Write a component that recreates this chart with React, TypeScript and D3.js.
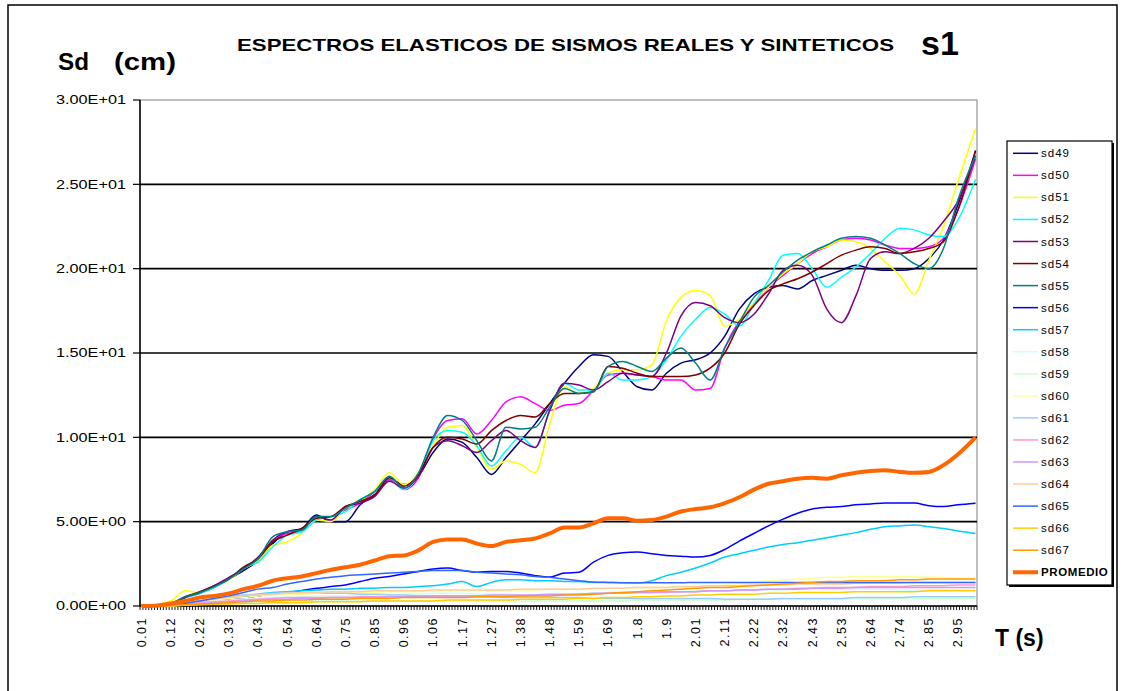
import React from "react";
import * as d3 from "d3";

// category index positions where the values were read (T = 0.01 + 0.0105 * index)
const GRID_IDX = [0,5,10,15,20,25,30,35,40,45,50,55,60,65,70,75,80,85,90,95,100,105,110,115,120,125,130,135,140,145,150,155,160,165,170,175,180,185,190,195,200,205,210,215,220,225,230,235,240,245,250,255,260,265,270,275,280,286];
const N_CATEGORIES = 287;
const X_TICK_LABELS = ["0.01","0.12","0.22","0.33","0.43","0.54","0.64","0.75","0.85","0.96","1.06","1.17","1.27","1.38","1.48","1.59","1.69","1.8","1.9","2.01","2.11","2.22","2.32","2.43","2.53","2.64","2.74","2.85","2.95"];
const Y_TICKS = [0,5,10,15,20,25,30];
const Y_TICK_LABELS = ["0.00E+00","5.00E+00","1.00E+01","1.50E+01","2.00E+01","2.50E+01","3.00E+01"];

const sd49 = [0.05,0.05,0.12,0.5,0.75,1.1,1.6,2.1,2.7,3.7,4.4,4.6,5.4,5.0,5.0,6.0,6.6,7.5,7.2,7.7,9.1,9.9,9.7,8.8,7.8,8.8,9.8,10.8,12.0,13.2,14.2,14.9,14.8,13.9,13.0,12.8,13.8,14.4,14.6,15.0,16.0,17.6,18.5,18.9,19.0,18.8,19.3,19.6,19.9,20.2,20.0,19.9,19.9,20.0,20.6,21.7,23.8,27.0];
const sd50 = [0.05,0.06,0.15,0.55,0.8,1.2,1.65,2.2,2.8,3.9,4.3,4.4,5.2,5.3,5.7,6.1,6.8,7.5,6.9,7.6,9.9,11.0,11.1,10.2,11.0,12.1,12.4,12.0,11.6,11.9,12.0,12.8,13.7,13.8,13.7,13.6,13.4,13.4,12.8,12.9,15.3,16.9,17.9,18.9,19.6,20.3,20.9,21.3,21.7,21.8,21.7,21.4,21.2,21.2,21.3,21.8,23.5,26.5];
const sd51 = [0.05,0.1,0.3,0.9,0.8,1.15,1.55,2.2,2.7,3.6,3.8,4.3,5.1,5.0,5.8,6.2,6.9,7.9,7.2,7.9,9.5,10.6,10.7,9.4,8.1,8.6,8.4,7.9,10.8,13.0,12.6,12.9,13.8,14.0,14.0,14.3,16.9,18.3,18.7,18.4,16.6,17.0,18.0,18.9,19.7,20.3,21.0,21.3,21.7,21.6,21.2,20.4,19.6,18.5,20.5,22.5,25.2,28.3];
const sd52 = [0.05,0.06,0.15,0.5,0.75,1.1,1.6,2.3,2.6,3.5,4.2,4.4,5.1,5.3,5.6,6.3,6.8,7.6,6.9,7.8,9.8,10.4,10.3,9.5,8.3,9.2,10.0,9.4,11.6,13.2,12.8,12.8,13.8,13.4,13.4,13.6,14.6,16.0,17.0,17.7,17.3,16.6,17.9,19.3,20.8,20.9,20.0,18.9,19.5,20.1,20.9,21.8,22.4,22.3,22.0,21.9,22.9,25.3];
const sd53 = [0.05,0.05,0.12,0.5,0.8,1.2,1.7,2.2,2.9,3.9,4.4,4.5,5.3,5.1,5.9,6.1,6.5,7.4,7.0,7.7,9.4,9.8,9.5,9.1,9.8,10.4,9.8,9.4,11.6,13.2,13.1,12.8,13.3,13.8,13.7,13.6,15.0,17.2,18.0,17.8,17.1,16.8,17.3,18.5,19.9,20.2,19.6,17.6,16.8,18.4,20.6,21.0,20.9,21.2,21.8,22.8,24.0,26.7];
const sd54 = [0.05,0.06,0.15,0.55,0.85,1.2,1.6,2.3,2.8,3.8,4.2,4.6,5.2,5.3,5.9,6.2,6.6,7.6,7.1,7.8,9.4,10.0,9.9,9.6,10.4,11.0,11.3,11.2,12.0,12.6,12.6,12.7,14.2,14.1,13.8,13.6,13.6,13.6,13.7,14.1,15.0,16.7,17.8,18.7,19.1,19.4,19.8,20.3,20.8,21.1,21.3,21.2,20.9,21.0,21.2,21.6,23.5,27.0];
const sd55 = [0.05,0.06,0.15,0.55,0.8,1.15,1.6,2.2,2.8,4.1,4.4,4.5,5.3,5.3,5.8,6.3,6.8,7.7,7.0,7.9,10.0,11.3,11.0,9.8,8.6,10.6,10.5,10.6,11.8,12.9,12.6,12.7,14.2,14.5,14.2,13.9,14.7,15.3,14.4,13.4,15.3,16.8,18.3,19.0,19.8,20.5,21.0,21.4,21.8,21.9,21.8,21.4,20.9,20.3,20.0,21.2,24.1,26.7];
const sd56 = [0,0.02,0.05,0.12,0.2,0.3,0.4,0.5,0.6,0.7,0.8,0.92,1.05,1.15,1.25,1.45,1.65,1.75,1.9,2.05,2.2,2.25,2.1,2.0,2.05,2.05,1.95,1.8,1.72,1.95,2.0,2.6,3.0,3.15,3.2,3.1,3.0,2.95,2.9,3.0,3.35,3.85,4.3,4.75,5.15,5.5,5.75,5.85,5.9,6.0,6.05,6.1,6.1,6.1,5.95,5.9,6.0,6.1];
const sd57 = [0,0.02,0.05,0.15,0.3,0.4,0.5,0.6,0.7,0.8,0.85,0.9,0.95,1.0,1.0,1.05,1.05,1.1,1.1,1.15,1.2,1.3,1.45,1.15,1.4,1.55,1.55,1.5,1.5,1.45,1.45,1.4,1.4,1.38,1.37,1.5,1.8,2.0,2.25,2.55,2.9,3.1,3.3,3.5,3.65,3.75,3.9,4.05,4.2,4.35,4.55,4.7,4.75,4.8,4.7,4.6,4.45,4.3];
const sd58 = [0,0,0.02,0.1,0.2,0.3,0.35,0.4,0.45,0.5,0.5,0.55,0.6,0.6,0.6,0.65,0.65,0.7,0.7,0.7,0.75,0.75,0.75,0.7,0.7,0.7,0.65,0.65,0.7,0.7,0.75,0.75,0.8,0.8,0.8,0.8,0.85,0.85,0.9,0.9,0.9,0.9,0.95,0.95,0.95,1.0,1.0,1.0,1.0,1.0,1.0,1.0,0.95,0.95,0.95,0.95,0.95,0.95];
const sd59 = [0,0,0.01,0.05,0.1,0.15,0.2,0.2,0.25,0.25,0.3,0.3,0.3,0.3,0.3,0.3,0.3,0.3,0.3,0.3,0.3,0.3,0.3,0.3,0.3,0.3,0.3,0.3,0.3,0.3,0.3,0.3,0.3,0.3,0.35,0.35,0.35,0.35,0.35,0.35,0.35,0.4,0.4,0.4,0.4,0.4,0.4,0.4,0.4,0.45,0.45,0.45,0.45,0.45,0.45,0.45,0.45,0.45];
const sd60 = [0,0,0.05,0.15,0.25,0.35,0.45,0.5,0.6,0.65,0.7,0.7,0.75,0.75,0.8,0.8,0.8,0.85,0.85,0.85,0.9,0.9,0.9,0.9,0.9,0.95,0.95,0.95,1.0,1.0,1.0,1.0,1.05,1.05,1.1,1.1,1.1,1.15,1.15,1.2,1.25,1.3,1.4,1.5,1.55,1.6,1.65,1.7,1.7,1.75,1.75,1.75,1.75,1.75,1.7,1.7,1.65,1.65];
const sd61 = [0,0,0.02,0.15,0.3,0.45,0.55,0.65,0.7,0.75,0.8,0.8,0.8,0.75,0.75,0.7,0.7,0.65,0.65,0.6,0.6,0.6,0.55,0.55,0.55,0.5,0.5,0.5,0.5,0.5,0.5,0.45,0.45,0.45,0.45,0.45,0.45,0.45,0.45,0.45,0.4,0.4,0.4,0.4,0.45,0.45,0.45,0.45,0.45,0.5,0.5,0.5,0.5,0.55,0.55,0.55,0.55,0.55];
const sd62 = [0,0,0.02,0.1,0.2,0.25,0.3,0.35,0.4,0.45,0.5,0.5,0.5,0.5,0.5,0.55,0.55,0.55,0.55,0.6,0.6,0.6,0.6,0.6,0.6,0.6,0.6,0.65,0.65,0.65,0.7,0.7,0.75,0.75,0.8,0.8,0.8,0.85,0.85,0.9,0.9,0.95,0.95,1.0,1.0,1.05,1.05,1.1,1.1,1.1,1.15,1.15,1.15,1.2,1.2,1.2,1.25,1.25];
const sd63 = [0,0,0.02,0.1,0.15,0.2,0.25,0.3,0.35,0.4,0.4,0.45,0.45,0.5,0.5,0.5,0.5,0.55,0.55,0.55,0.6,0.6,0.6,0.6,0.65,0.65,0.65,0.65,0.7,0.7,0.7,0.75,0.75,0.8,0.8,0.8,0.85,0.85,0.85,0.9,0.9,0.95,0.95,1.0,1.0,1.0,1.05,1.05,1.05,1.1,1.1,1.1,1.1,1.1,1.1,1.1,1.1,1.1];
const sd64 = [0,0,0.03,0.15,0.3,0.4,0.5,0.6,0.65,0.7,0.75,0.8,0.8,0.85,0.85,0.85,0.9,0.9,0.9,0.9,0.95,0.95,0.95,0.95,0.95,0.95,1.0,1.0,1.0,1.0,1.0,1.05,1.05,1.05,1.1,1.1,1.1,1.15,1.15,1.2,1.2,1.2,1.25,1.25,1.25,1.3,1.3,1.3,1.3,1.35,1.35,1.35,1.35,1.4,1.4,1.4,1.4,1.4];
const sd65 = [0,0.02,0.05,0.15,0.3,0.45,0.6,0.8,1.0,1.1,1.3,1.45,1.6,1.7,1.8,1.85,1.9,1.95,2.0,2.05,2.1,2.1,2.1,2.0,1.95,1.9,1.85,1.75,1.7,1.6,1.5,1.42,1.4,1.38,1.38,1.38,1.38,1.38,1.4,1.4,1.4,1.4,1.4,1.4,1.4,1.4,1.4,1.4,1.4,1.4,1.4,1.4,1.4,1.4,1.4,1.4,1.4,1.4];
const sd66 = [0,0,0.01,0.05,0.08,0.1,0.12,0.15,0.15,0.2,0.2,0.2,0.25,0.25,0.25,0.25,0.3,0.3,0.3,0.3,0.3,0.35,0.35,0.35,0.35,0.35,0.4,0.4,0.4,0.4,0.45,0.45,0.5,0.5,0.55,0.55,0.6,0.6,0.65,0.65,0.7,0.7,0.7,0.75,0.75,0.8,0.8,0.8,0.8,0.85,0.85,0.85,0.85,0.85,0.9,0.9,0.9,0.9];
const sd67 = [0,0,0.02,0.08,0.12,0.15,0.2,0.25,0.3,0.3,0.35,0.35,0.4,0.4,0.4,0.45,0.45,0.45,0.5,0.5,0.5,0.5,0.5,0.55,0.55,0.55,0.6,0.6,0.6,0.65,0.65,0.7,0.75,0.8,0.85,0.9,0.95,1.0,1.05,1.1,1.1,1.15,1.2,1.25,1.3,1.35,1.4,1.45,1.45,1.5,1.5,1.5,1.55,1.55,1.6,1.6,1.6,1.6];
const promedio = [0,0.02,0.15,0.3,0.5,0.6,0.75,1.0,1.2,1.5,1.65,1.75,1.95,2.15,2.3,2.45,2.7,2.95,3.0,3.3,3.8,3.95,3.95,3.7,3.55,3.8,3.9,4.0,4.3,4.65,4.65,4.9,5.2,5.2,5.05,5.1,5.3,5.6,5.75,5.85,6.1,6.45,6.9,7.25,7.4,7.55,7.6,7.55,7.75,7.9,8.0,8.05,7.95,7.9,7.95,8.35,9.0,10.0];

const SERIES_NAMES = ["sd49","sd50","sd51","sd52","sd53","sd54","sd55","sd56","sd57","sd58","sd59","sd60","sd61","sd62","sd63","sd64","sd65","sd66","sd67","PROMEDIO"];
const SERIES_VALUES = [sd49,sd50,sd51,sd52,sd53,sd54,sd55,sd56,sd57,sd58,sd59,sd60,sd61,sd62,sd63,sd64,sd65,sd66,sd67,promedio];
const SERIES_COLORS = ["#000080","#FF00FF","#FFFF00","#00FFFF","#800080","#800000","#008080","#0000FF","#00CCFF","#CCFFFF","#CCFFCC","#FFFF99","#99CCFF","#FF99CC","#CC99FF","#FFCC99","#3366FF","#FFCC00","#FF9900","#FF6600"];

const FONT = "'Liberation Sans', Arial, sans-serif";

export default function App() {
  const left = 140, right = 977, top = 100, bottom = 606;
  const x = d3.scaleLinear().domain([-0.5, N_CATEGORIES - 0.5]).range([left, right]);
  const y = d3.scaleLinear().domain([0, 30]).range([bottom, top]);
  const line = d3.line<number>()
    .x((_, i) => x(GRID_IDX[i]))
    .y((d) => y(d))
    .curve(d3.curveMonotoneX);

  const step = (right - left) / N_CATEGORIES;
  const catTicks = d3.range(N_CATEGORIES + 1).map((k) => left + k * step);

  const legX = 1007, legY = 141, legW = 105, legH = 444;
  const legRow0 = 153.3, legStep = 22.05;

  return (
    <svg width={1123} height={691} style={{ position: "absolute", left: 0, top: 0, background: "#fff" }}>
      <rect x={0} y={0} width={1123} height={691} fill="#fff" />
      {/* chart area border */}
      <rect x={8} y={5} width={1109} height={700} fill="none" stroke="#000" strokeWidth={1.5} />

      {/* titles */}
      <text x={237} y={51} fontFamily={FONT} fontWeight="bold" fontSize={17} textLength={657} lengthAdjust="spacingAndGlyphs">ESPECTROS ELASTICOS DE SISMOS REALES Y SINTETICOS</text>
      <text x={921} y={55} fontFamily={FONT} fontWeight="bold" fontSize={34}>s1</text>
      <text x={58} y={70} fontFamily={FONT} fontWeight="bold" fontSize={23} textLength={31} lengthAdjust="spacingAndGlyphs">Sd</text>
      <text x={114} y={70} fontFamily={FONT} fontWeight="bold" fontSize={23} textLength={62} lengthAdjust="spacingAndGlyphs">(cm)</text>
      <text x={995} y={646} fontFamily={FONT} fontWeight="bold" fontSize={23}>T (s)</text>

      {/* plot area border (gray) */}
      <rect x={left} y={top} width={right - left} height={bottom - top} fill="none" stroke="#808080" strokeWidth={1} />

      {/* gridlines */}
      {Y_TICKS.filter((t) => t > 0 && t < 30).map((t) => (
        <line key={"g" + t} x1={left} x2={right} y1={y(t)} y2={y(t)} stroke="#000" strokeWidth={1.6} />
      ))}

      {/* y axis */}
      <line x1={left} x2={left} y1={top} y2={bottom} stroke="#000" strokeWidth={1.5} />
      {Y_TICKS.map((t, i) => (
        <g key={"yt" + t}>
          <line x1={left - 7} x2={left} y1={y(t)} y2={y(t)} stroke="#000" strokeWidth={1.2} />
          <text x={126} y={y(t)} dy="0.35em" textAnchor="end" fontFamily={FONT} fontSize={12.5} textLength={70} lengthAdjust="spacingAndGlyphs" fill="#000">{Y_TICK_LABELS[i]}</text>
        </g>
      ))}

      {/* x axis */}
      <line x1={left} x2={right} y1={bottom} y2={bottom} stroke="#000" strokeWidth={1.5} />
      {catTicks.map((tx, k) => (
        <line key={"xt" + k} x1={tx} x2={tx} y1={bottom} y2={bottom + 4} stroke="#000" strokeWidth={0.9} />
      ))}
      {X_TICK_LABELS.map((lab, k) => {
        const cx = x(k * 10);
        return (
          <text key={"xl" + k} transform={`translate(${cx},${617}) rotate(-90)`} textAnchor="end" dy="0.35em" fontFamily={FONT} fontSize={12.5} letterSpacing={1.5} fill="#000">{lab}</text>
        );
      })}

      {/* series */}
      {SERIES_VALUES.map((vals, s) => (
        <path key={"s" + s} d={line(vals) || ""} fill="none" stroke={SERIES_COLORS[s]} strokeWidth={s === 19 ? 4 : 1.5} strokeLinejoin="round" />
      ))}

      {/* legend */}
      <rect x={legX + 2} y={legY + 2} width={legW} height={legH} fill="#000" />
      <rect x={legX} y={legY} width={legW} height={legH} fill="#fff" stroke="#000" strokeWidth={1.2} />
      {SERIES_NAMES.map((name, s) => {
        const ly = legRow0 + s * legStep;
        const isAvg = s === 19;
        return (
          <g key={"lg" + s}>
            <line x1={1013} x2={1038} y1={ly} y2={ly} stroke={SERIES_COLORS[s]} strokeWidth={isAvg ? 4 : 1.5} />
            <text x={1041} y={ly} dy="0.35em" fontFamily={FONT} fontSize={11.5} fontWeight={isAvg ? "bold" : "normal"} letterSpacing={isAvg ? 0.6 : 1} fill="#000">{name}</text>
          </g>
        );
      })}
    </svg>
  );
}
